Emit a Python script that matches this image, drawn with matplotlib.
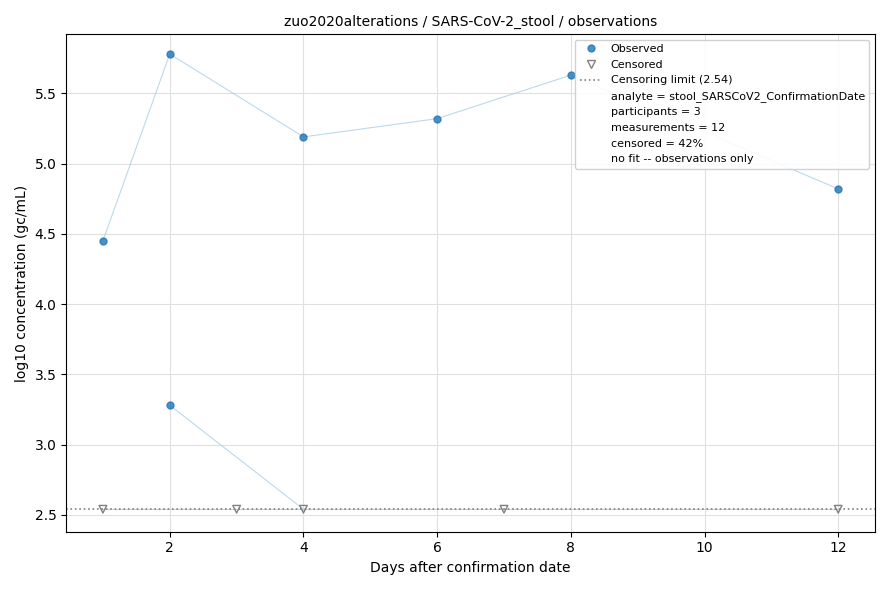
import numpy as np
import matplotlib.pyplot as plt
from matplotlib.lines import Line2D

LOD = 2.54
# participant series: days, log10 values, censored flags
p1_days = [1, 2, 4, 6, 8, 12]
p1_vals = [4.45, 5.78, 5.19, 5.32, 5.63, 4.82]
p1_cens = [False] * 6
p2_days = [2, 4]
p2_vals = [3.28, LOD]
p2_cens = [False, True]
p3_days = [1, 3, 7, 12]
p3_vals = [LOD, LOD, LOD, LOD]
p3_cens = [True, True, True, True]

fig, ax = plt.subplots(figsize=(8.9, 5.9), dpi=100)

obs_x, obs_y, cen_x, cen_y = [], [], [], []
for d, v, c in [(p1_days, p1_vals, p1_cens), (p2_days, p2_vals, p2_cens), (p3_days, p3_vals, p3_cens)]:
    ax.plot(d, v, color='#9ecae1', lw=0.8, alpha=0.7, zorder=1)
    for x, y, cc in zip(d, v, c):
        (cen_x if cc else obs_x).append(x)
        (cen_y if cc else obs_y).append(y)

ax.axhline(LOD, color='gray', ls=':', lw=1.2, zorder=2)
ax.scatter(obs_x, obs_y, s=25, color='#1f77b4', alpha=0.8, zorder=3)
ax.scatter(cen_x, cen_y, s=30, marker='v', facecolors='none', edgecolors='gray', zorder=3)

ax.set_ylim(2.38, 5.92)
ax.set_xlim(0.45, 12.55)
ax.grid(True, color='#e0e0e0', lw=0.8)
ax.set_axisbelow(True)
ax.set_xlabel('Days after confirmation date')
ax.set_ylabel('log10 concentration (gc/mL)')
ax.set_title('zuo2020alterations / SARS-CoV-2_stool / observations', fontsize=10)

blank = Line2D([], [], linestyle='none')
handles = [
    Line2D([], [], marker='o', linestyle='none', color='#1f77b4', alpha=0.8, markersize=5),
    Line2D([], [], marker='v', linestyle='none', markerfacecolor='none', markeredgecolor='gray', markersize=6),
    Line2D([], [], color='gray', ls=':', lw=1.2),
    blank, blank, blank, blank, blank,
]
labels = ['Observed', 'Censored', 'Censoring limit (2.54)',
          'analyte = stool_SARSCoV2_ConfirmationDate', 'participants = 3',
          'measurements = 12', 'censored = 42%', 'no fit -- observations only']
ax.legend(handles, labels, loc='upper right', fontsize=8, framealpha=0.9)

plt.tight_layout()
plt.savefig('out.png', dpi=100)
